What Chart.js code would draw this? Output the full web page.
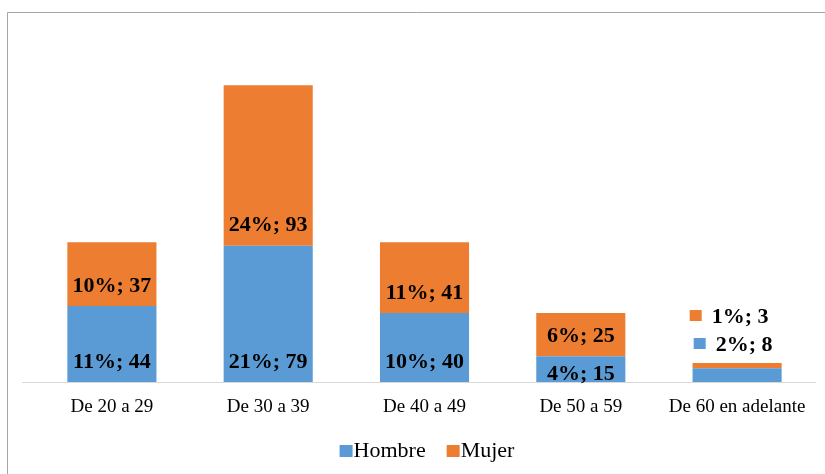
<!DOCTYPE html>
<html>
<head>
<meta charset="utf-8">
<script src="https://cdn.jsdelivr.net/npm/chart.js@4"></script>
<style>
html,body{margin:0;padding:0;background:#fff;}
#wrap{width:825px;height:474px;position:relative;}
</style>
</head>
<body>
<div id="wrap"><canvas id="c" width="825" height="474"></canvas></div>
<script>
const categories = ['De 20 a 29', 'De 30 a 39', 'De 40 a 49', 'De 50 a 59', 'De 60 en adelante'];
const hombre = [44, 79, 40, 15, 8];
const mujer = [37, 93, 41, 25, 3];
const hombrePct = ['11%', '21%', '10%', '4%', '2%'];
const mujerPct = ['10%', '24%', '11%', '6%', '1%'];
const seriesNames = ['Hombre', 'Mujer'];
const colors = ['#5B9BD5', '#ED7D31'];

const SERIF = '"Liberation Serif", "Times New Roman", serif';

const decorPlugin = {
  id: 'decor',
  beforeDraw(chart) {
    const ctx = chart.ctx;
    ctx.save();
    ctx.fillStyle = '#fff';
    ctx.fillRect(0, 0, chart.width, chart.height);
    // frame
    ctx.strokeStyle = '#a6a6a6';
    ctx.lineWidth = 1;
    ctx.beginPath();
    ctx.moveTo(7.5, chart.height + 2);
    ctx.lineTo(7.5, 12.5);
    ctx.lineTo(chart.width + 2, 12.5);
    ctx.stroke();
    // baseline
    const y0 = Math.round(chart.scales.y.getPixelForValue(0)) + 0.5;
    ctx.strokeStyle = '#d9d9d9';
    ctx.beginPath();
    ctx.moveTo(22, y0);
    ctx.lineTo(816, y0);
    ctx.stroke();
    ctx.restore();
  },
  afterDatasetsDraw(chart) {
    const ctx = chart.ctx;
    ctx.save();
    ctx.font = 'bold 22px ' + SERIF;
    ctx.fillStyle = '#000';
    ctx.textAlign = 'center';
    ctx.textBaseline = 'middle';
    const pcts = [hombrePct, mujerPct];
    const n = categories.length;
    for (let i = 0; i < n; i++) {
      const m0 = chart.getDatasetMeta(0).data[i];
      const m1 = chart.getDatasetMeta(1).data[i];
      const segs = [m0, m1];
      const small = Math.abs(m0.base - m0.y) < 20 || Math.abs(m1.base - m1.y) < 20;
      if (small) {
        // labels above the bar, with colour keys
        const top = m1.y;
        const rows = [{ds: 1, dy: -47}, {ds: 0, dy: -19}];
        rows.forEach(r => {
          const vals = r.ds === 0 ? hombre : mujer;
          const txt = pcts[r.ds][i] + '; ' + vals[i];
          const cy = top + r.dy;
          ctx.textAlign = 'left';
          const w = ctx.measureText(txt).width;
          const keyW = 12, gap = 10;
          const total = keyW + gap + w;
          const startX = m0.x - total / 2 + (r.ds === 0 ? 4 : 0) - 8;
          ctx.fillStyle = colors[r.ds];
          ctx.fillRect(startX, cy - 6, keyW, 11);
          ctx.fillStyle = '#000';
          ctx.fillText(txt, startX + keyW + gap, cy + 1);
        });
        ctx.textAlign = 'center';
        continue;
      }
      segs.forEach((el, ds) => {
        const vals = ds === 0 ? hombre : mujer;
        const h = Math.abs(el.base - el.y);
        const off = h < 30 ? h * 0.35 : 21;
        const cy = el.base - off;
        ctx.fillText(pcts[ds][i] + '; ' + vals[i], el.x, cy + 1);
      });
    }
    // legend
    ctx.font = '22px ' + SERIF;
    ctx.textAlign = 'left';
    const ly = 451;
    const items = seriesNames.map((s, k) => ({s, k, w: ctx.measureText(s).width}));
    const keyW = 13, keyGap = 1, itemGap = 21;
    let total = 0;
    items.forEach((it, idx) => { total += keyW + keyGap + it.w + (idx < items.length - 1 ? itemGap : 0); });
    let x = 427 - total / 2;
    items.forEach(it => {
      ctx.fillStyle = colors[it.k];
      ctx.fillRect(x, ly - 6, keyW, 12);
      ctx.fillStyle = '#000';
      ctx.fillText(it.s, x + keyW + keyGap, ly);
      x += keyW + keyGap + it.w + itemGap;
    });
    ctx.restore();
  }
};

new Chart(document.getElementById('c'), {
  type: 'bar',
  data: {
    labels: categories,
    datasets: [
      {label: seriesNames[0], data: hombre, backgroundColor: colors[0], borderWidth: 0},
      {label: seriesNames[1], data: mujer, backgroundColor: colors[1], borderWidth: 0}
    ]
  },
  options: {
    responsive: false,
    animation: false,
    devicePixelRatio: 1,
    layout: {padding: {left: 33.75, right: 9.75, top: 37, bottom: 0}},
    datasets: {bar: {categoryPercentage: 1, barPercentage: 0.57}},
    plugins: {legend: {display: false}, tooltip: {enabled: false}},
    scales: {
      x: {
        stacked: true,
        grid: {display: false, drawTicks: false},
        border: {display: false},
        ticks: {color: '#000', font: {family: SERIF, size: 19}, padding: 14, maxRotation: 0, autoSkip: false},
        afterFit(scale) { scale.height = 92; }
      },
      y: {
        stacked: true,
        display: false,
        min: 0,
        max: 200
      }
    }
  },
  plugins: [decorPlugin]
});
</script>
</body>
</html>
